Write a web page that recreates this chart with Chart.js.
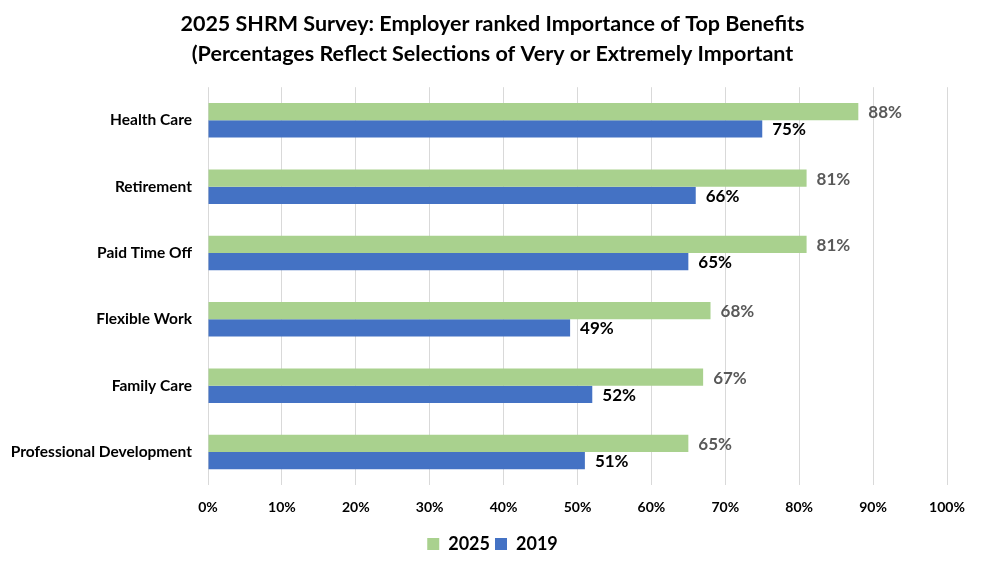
<!DOCTYPE html>
<html>
<head>
<meta charset="utf-8">
<script src="https://cdn.jsdelivr.net/npm/chart.js@4/dist/chart.umd.min.js"></script>
<style>
  html, body { margin: 0; padding: 0; background: #ffffff; }
  #wrap { width: 985px; height: 571px; }
</style>
</head>
<body>
<div id="wrap"><canvas id="benefitsChart"></canvas></div>
<script>
// Datos
const categories = [
  "Health Care",
  "Retirement",
  "Paid Time Off",
  "Flexible Work",
  "Family Care",
  "Professional Development",
];
const values2025 = [88, 81, 81, 68, 67, 65];
const values2019 = [75, 66, 65, 49, 52, 51];
const seriesLabels = ["2025", "2019"];
const titleLines = [
  "2025 SHRM Survey: Employer ranked Importance of Top Benefits",
  "(Percentages Reflect Selections of Very or Extremely Important",
];

const FONT = "Lato, 'Open Sans', sans-serif";

// Plugin sencillo para las etiquetas de valor al final de cada barra
const valueLabels = {
  id: "valueLabels",
  afterDatasetsDraw(chart) {
    const ctx = chart.ctx;
    ctx.save();
    ctx.font = "bold 17px " + FONT;
    ctx.textBaseline = "middle";
    ctx.textAlign = "left";
    chart.data.datasets.forEach((ds, i) => {
      const meta = chart.getDatasetMeta(i);
      meta.data.forEach((bar, j) => {
        ctx.fillStyle = ds.labelColor;
        ctx.fillText(ds.data[j] + "%", bar.x + 10, bar.y + 1);
      });
    });
    ctx.restore();
  },
};

// Desplaza título y leyenda un poco a la derecha (centrados como en el original)
const centerShift = {
  id: "centerShift",
  afterLayout(chart) {
    const dx = 19;
    [chart.titleBlock, chart.legend].forEach((box) => {
      if (box) {
        box.left += dx;
        box.right += dx;
      }
    });
  },
};

document.addEventListener("DOMContentLoaded", function () {
  const ctx = document.getElementById("benefitsChart").getContext("2d");
  new Chart(ctx, {
    type: "bar",
    data: {
      labels: categories,
      datasets: [
        {
          label: seriesLabels[0],
          data: values2025,
          backgroundColor: "#a9d18e",
          labelColor: "#595959",
          categoryPercentage: 0.52,
          barPercentage: 1.0,
        },
        {
          label: seriesLabels[1],
          data: values2019,
          backgroundColor: "#4472c4",
          labelColor: "#000000",
          categoryPercentage: 0.52,
          barPercentage: 1.0,
        },
      ],
    },
    options: {
      indexAxis: "y",
      responsive: true,
      maintainAspectRatio: false,
      animation: false,
      layout: {
        padding: { left: 0, right: 38, top: 9, bottom: 8 },
      },
      scales: {
        x: {
          min: 0,
          max: 100,
          ticks: {
            stepSize: 10,
            color: "#000000",
            padding: 14,
            font: { family: FONT, size: 14, weight: "bold" },
            callback: (v) => v + "%",
          },
          grid: {
            color: "#d9d9d9",
            drawTicks: false,
          },
          border: { display: false },
        },
        y: {
          afterFit: (scale) => {
            scale.width = 208;
          },
          ticks: {
            color: "#000000",
            padding: 8,
            font: { family: FONT, size: 15.5, weight: "bold" },
          },
          grid: { display: false },
          border: { display: false },
        },
      },
      plugins: {
        title: {
          display: true,
          text: titleLines,
          color: "#000000",
          font: { family: FONT, size: 21.5, weight: "bold", lineHeight: 1.4 },
          padding: { top: 0, bottom: 18 },
        },
        legend: {
          position: "bottom",
          labels: {
            color: "#000000",
            font: { family: FONT, size: 18, weight: "bold" },
            boxWidth: 12,
            boxHeight: 12,
            padding: 5,
          },
        },
        tooltip: { enabled: false },
      },
    },
    plugins: [valueLabels, centerShift],
  });
});
</script>
</body>
</html>
